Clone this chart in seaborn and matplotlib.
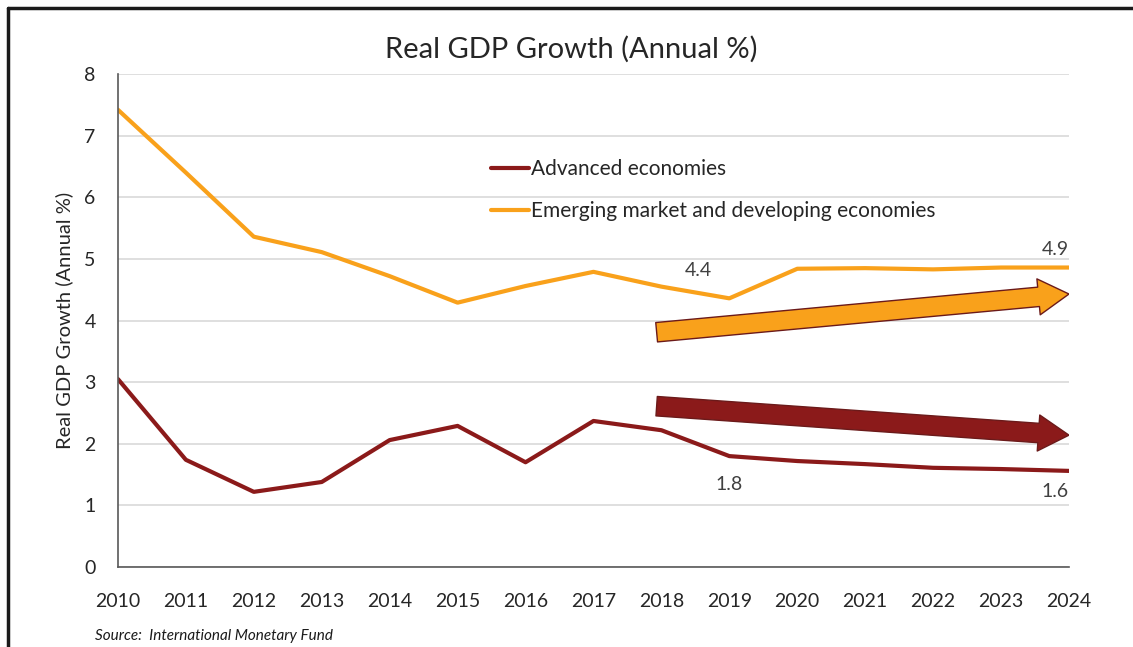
import matplotlib
matplotlib.use("Agg")
import matplotlib.pyplot as plt
import seaborn as sns
import pandas as pd
from matplotlib.patches import FancyArrowPatch
from matplotlib.lines import Line2D

years = list(range(2010, 2025))
advanced = [3.05, 1.74, 1.22, 1.38, 2.06, 2.29, 1.70, 2.37, 2.22, 1.80, 1.72, 1.67, 1.61, 1.59, 1.56]
emerging = [7.42, 6.40, 5.36, 5.11, 4.72, 4.29, 4.56, 4.79, 4.55, 4.36, 4.84, 4.85, 4.83, 4.86, 4.86]
series_names = ["Advanced economies", "Emerging market and developing economies"]
series_colors = ["#8B1A1A", "#F9A11B"]

sns.set_theme(style="white")
plt.rcParams["font.family"] = ["Lato", "DejaVu Sans"]

df = pd.DataFrame({
    "Year": years * 2,
    "Growth": advanced + emerging,
    "Series": [series_names[0]] * len(years) + [series_names[1]] * len(years),
})

fig = plt.figure(figsize=(11.33, 6.47), dpi=100)
ax = fig.add_axes([0.1041, 0.1236, 0.8394, 0.762])

sns.lineplot(data=df, x="Year", y="Growth", hue="Series", palette=series_colors,
             linewidth=3, ax=ax, legend=True)

ax.set_xlim(2010, 2024)
ax.set_ylim(0, 8)
ax.set_xticks(years)
ax.set_xticklabels([str(y) for y in years], fontsize=14)
ax.set_yticks(range(0, 9))
ax.set_yticklabels([str(v) for v in range(0, 9)], fontsize=14)
ax.grid(axis="y", color="#D9D9D9", linewidth=1.2)
ax.set_axisbelow(True)
for s in ["top", "right"]:
    ax.spines[s].set_visible(False)
for s in ["left", "bottom"]:
    ax.spines[s].set_color("#595959")
    ax.spines[s].set_linewidth(1.2)
ax.tick_params(axis="x", direction="out", length=6, width=1.2, color="#595959", pad=13)
ax.tick_params(axis="y", length=0, pad=16)
ax.set_xlabel("")
ax.set_ylabel("Real GDP Growth (Annual %)", fontsize=14.5, labelpad=8)
ax.set_title("Real GDP Growth (Annual %)", fontsize=21, pad=12, x=0.477)

leg = ax.legend(loc="upper left", bbox_to_anchor=(0.373, 0.865), frameon=False,
                fontsize=15, handlelength=1.8, handletextpad=0.1, labelspacing=1.05)

# value labels
ax.text(2018.75, emerging[9] + 0.32, f"{emerging[9]:.1f}", ha="right", va="bottom", fontsize=14, color="#404040")
ax.text(2019, advanced[9] - 0.32, f"{advanced[9]:.1f}", ha="center", va="top", fontsize=14, color="#404040")
ax.text(2024, emerging[-1] + 0.15, f"{emerging[-1]:.1f}", ha="right", va="bottom", fontsize=14, color="#404040")
ax.text(2024, advanced[-1] - 0.2, f"{advanced[-1]:.1f}", ha="right", va="top", fontsize=14, color="#404040")

# trend arrows
arrow_kw = dict(arrowstyle="simple,head_length=22,head_width=26,tail_width=14",
                mutation_scale=1, shrinkA=0, shrinkB=0, linewidth=1, edgecolor="#6B1A1A")
ax.add_patch(FancyArrowPatch((2017.93, 3.81), (2024, 4.43), facecolor="#F9A11B", **arrow_kw))
ax.add_patch(FancyArrowPatch((2017.93, 2.61), (2024, 2.14), facecolor="#8B1A1A", **arrow_kw))

fig.text(95 / 1133, 1 - 636 / 647, "Source:  International Monetary Fund", fontsize=11,
         style="italic", va="center", color="#1a1a1a")

# outer frame
fig.add_artist(Line2D([8 / 1133, 8 / 1133], [0, 1 - 8 / 647], color="#1a1a1a", linewidth=2.5))
fig.add_artist(Line2D([8 / 1133, 1], [1 - 8 / 647, 1 - 8 / 647], color="#1a1a1a", linewidth=2.5))

fig.savefig("out.png", dpi=100)
